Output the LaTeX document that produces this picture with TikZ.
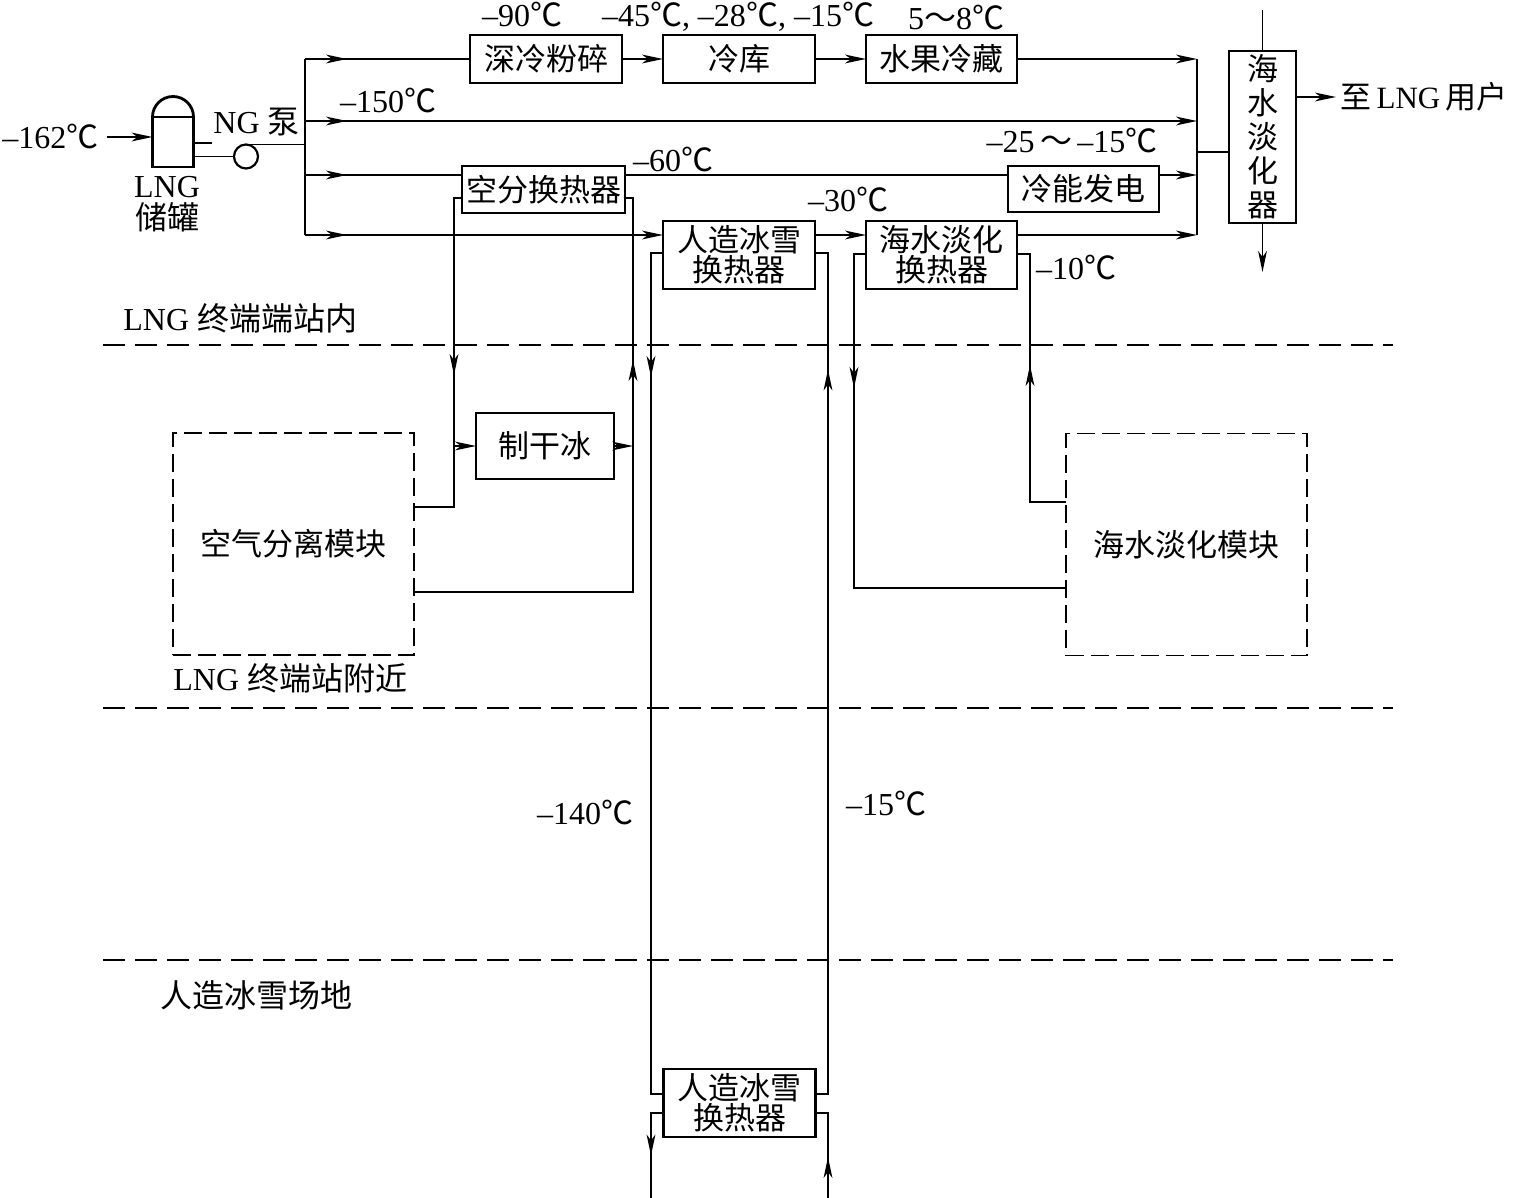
\documentclass[tikz,border=0pt]{standalone}
\usepackage{fontspec}
\setmainfont{Liberation Serif}
\newfontfamily\cjk{Noto Sans CJK SC}
\usetikzlibrary{positioning, arrows.meta, calc, decorations.markings}

\newcommand{\zh}[1]{{\cjk #1}}
\newcommand{\degC}{{\cjk ℃}}
\newcommand{\tld}{{\cjk ～}}

\tikzset{
    box/.style={
        rectangle, draw=black, line width=1.4pt, inner sep=0pt, outer sep=0pt,
        align=center, font=\cjk\fontsize{15.5}{15}\selectfont,
        minimum height=24pt, minimum width=76pt,
    },
    module/.style={
        rectangle, draw=black, line width=0.6pt, outer sep=0pt,
        dash pattern=on 9pt off 3.5pt, inner sep=0pt,
        font=\cjk\fontsize{15.5}{15}\selectfont,
        minimum width=120.5pt, minimum height=111pt,
    },
    pipe/.style={line width=0.65pt, draw=black},
    flow/.style={pipe, -{Stealth[length=10.5pt, width=4.4pt, inset=3pt]}},
    tipat/.style={
        postaction={decorate},
        decoration={markings, mark=at position #1 with
            {\arrow{Stealth[length=10.5pt, width=4.4pt, inset=3pt]}}},
    },
    zone/.style={line width=0.6pt, dash pattern=on 11pt off 5pt},
    temp/.style={font=\fontsize{16}{18}\selectfont, inner sep=0pt},
    lbl/.style={font=\fontsize{16}{16}\selectfont, inner sep=0pt, align=center},
}

\begin{document}
\begin{tikzpicture}[x=0.5pt, y=-0.5pt]
\useasboundingbox (0,0) rectangle (1516,1198);

% ============================================================
%  LNG tank and pump
% ============================================================
\node[box, minimum width=20.5pt, minimum height=25pt] (tank) at (173,142) {};
\draw[line width=1.4pt] (tank.north west) arc[start angle=180, end angle=0, radius=10.25pt];
\node[temp, anchor=west] (tin) at (2,137) {--162\degC};
\node[lbl] (tanklab) at (167,204) {LNG\\\zh{储罐}};
\node[circle, draw, line width=1.1pt, minimum size=12pt, inner sep=0pt, outer sep=0pt] (pump) at (246,156.5) {};
\node[lbl, anchor=west] (pumplab) at (213,122) {NG \zh{泵}};

\coordinate (stub) at (212,143);
\draw[flow] ([xshift=4pt]tin.east) -- (tank.west |- tin.east);
\draw[pipe] (tank.east |- stub) -- (stub);
\draw[pipe] (tank.east |- pump) -- (pump.west);

% header and collector
\coordinate (r1) at (305,59);
\coordinate (r2) at (305,121);
\coordinate (r3) at (305,175);
\coordinate (r4) at (305,235);
\coordinate (col) at (1197,152);
\draw[pipe] (pump.north) -- (pump.north -| r1);
\draw[pipe] (r1) -- (r4);

% ============================================================
%  Users inside the terminal
% ============================================================
\node[box] (crush) at (546,59) {深冷粉碎};
\node[box] (cold) at (739,59) {冷库};
\node[box, minimum width=75.5pt] (fruit) at (941.5,59) {水果冷藏};
\node[box, minimum width=81.5pt, minimum height=23.5pt] (asuhx) at (543.5,189.5) {空分换热器};
\node[box, minimum width=75.5pt, minimum height=23pt] (power) at (1083.5,189) {冷能发电};
\node[box, minimum height=34pt] (snowhx) at (739,255) {人造冰雪\\换热器};
\node[box, minimum width=75.5pt, minimum height=34pt] (seahx) at (941.5,255) {海水淡化\\换热器};
\node[box, minimum width=33.5pt, minimum height=86pt,
      font=\cjk\fontsize{15.5}{17}\selectfont] (desal) at (1262.5,137) {海\\水\\淡\\化\\器};
\node[lbl, anchor=west, font=\fontsize{15.5}{16}\selectfont] (user) at (1340,97) {\zh{至}\,LNG\,\zh{用户}};

% temperatures
\node[temp] (t90) at (522,15) {--90\degC};
\node[temp] (t45) at (738,17) {--45\degC, --28\degC, --15\degC};
\node[temp] (t58) at (956,18) {5\tld8\degC};
\node[temp] (t150) at (388,101) {--150\degC};
\node[temp] (t60) at (673,160) {--60\degC};
\node[temp] (t25) at (1072,141) {--25\,\tld\,--15\degC};
\node[temp] (t30) at (848,200) {--30\degC};
\node[temp] (t10) at (1076,268) {--10\degC};

% row 1
\draw[pipe, tipat=21pt] (r1) -- (crush.west);
\draw[flow] (crush) -- (cold);
\draw[flow] (cold) -- (fruit);
\draw[flow] (fruit.east) -- (fruit.east -| col);
% row 2
\draw[flow, tipat=21pt] (r2) -- (r2 -| col);
% row 3
\draw[pipe, tipat=21pt] (r3) -- (r3 -| asuhx.west);
\draw[pipe] (r3 -| asuhx.east) -- (r3 -| power.west);
\draw[flow] (r3 -| power.east) -- (r3 -| col);
% row 4
\draw[flow, tipat=21pt] (r4) -- (r4 -| snowhx.west);
\draw[flow] (r4 -| snowhx.east) -- (r4 -| seahx.west);
\draw[flow] (r4 -| seahx.east) -- (r4 -| col);

% collector into the desalinator
\coordinate (swin) at (1262.5,10);
\coordinate (swout) at (1262.5,272);
\draw[pipe] (fruit.east -| col) -- (r4 -| col);
\draw[pipe] (col) -- (desal.west |- col);
\draw[pipe] (swin) -- (desal.north);
\draw[flow] (desal.south) -- (swout);
\draw[flow] (desal.east |- user.west) -- ([xshift=-2pt]user.west);

% ============================================================
%  Zones
% ============================================================
\coordinate (zl1) at (103,345);  \coordinate (zr1) at (1393,345);
\coordinate (zl2) at (103,708);  \coordinate (zr2) at (1393,708);
\coordinate (zl3) at (103,960);  \coordinate (zr3) at (1393,960);
\draw[zone] (zl1) -- (zr1);
\draw[zone] (zl2) -- (zr2);
\draw[zone] (zl3) -- (zr3);
\node[lbl, anchor=west] (zin) at (123,318) {LNG \zh{终端端站内}};
\node[lbl, anchor=west] (znear) at (173,678) {LNG \zh{终端站附近}};
\node[lbl, anchor=west] (zsnow) at (160,995) {\zh{人造冰雪场地}};

% ============================================================
%  Modules near the terminal
% ============================================================
\node[module] (asumod) at (293.5,544) {空气分离模块};
\node[module] (seamod) at (1186.5,544.5) {海水淡化模块};
\node[box, minimum width=69pt, minimum height=33pt] (dryice) at (545,446) {制干冰};

% air separation loop
\coordinate (asul) at (454,198);
\coordinate (asur) at (633,198);
\coordinate (asuout) at (414,507);
\coordinate (asuret) at (414,592);
\draw[pipe, tipat=92.5pt] (asuhx.west |- asul) -- (asul) |- (asuout);
\draw[flow] (asul |- dryice.west) -- (dryice.west);
\draw[pipe, tipat=225.5pt] (asuret) -| (asur) -- (asuhx.east |- asur);
\draw[flow] (dryice.east) -- (dryice.east -| asur);

% desalination loop
\coordinate (sel) at (854,254);
\coordinate (ser) at (1030,254);
\coordinate (sel2) at (854,588);
\coordinate (ser2) at (1030,502);
\draw[pipe, tipat=73pt] (seahx.west |- sel) -- (sel) -- (sel2) -- (sel2 -| seamod.west);
\draw[pipe, tipat=86.5pt] (ser2 -| seamod.west) -- (ser2) -- (ser) -- (seahx.east |- ser);

% ============================================================
%  Snow field loop
% ============================================================
\node[box, minimum height=34pt] (snowhx2) at (739.5,1103) {人造冰雪\\换热器};
\node[temp] (t140) at (585,812) {--140\degC};
\node[temp] (t15) at (886,803) {--15\degC};

\coordinate (snl) at (651,253);   \coordinate (snr) at (828,253);
\coordinate (snl2) at (651,1094); \coordinate (snr2) at (828,1094);
\coordinate (snl3) at (651,1113); \coordinate (snr3) at (828,1113);
\coordinate (snlb) at (651,1198); \coordinate (snrb) at (828,1198);
\draw[pipe, tipat=68pt] (snowhx.west |- snl) -- (snl) -- (snl2) -- (snowhx2.west |- snl2);
\draw[pipe, tipat=368.5pt] (snowhx2.east |- snr2) -- (snr2) -- (snr) -- (snowhx.east |- snr);
\draw[pipe, tipat=27.5pt] (snowhx2.west |- snl3) -- (snl3) -- (snlb);
\draw[pipe, tipat=20.5pt] (snrb) -- (snr3) -- (snowhx2.east |- snr3);

\end{tikzpicture}
\end{document}
